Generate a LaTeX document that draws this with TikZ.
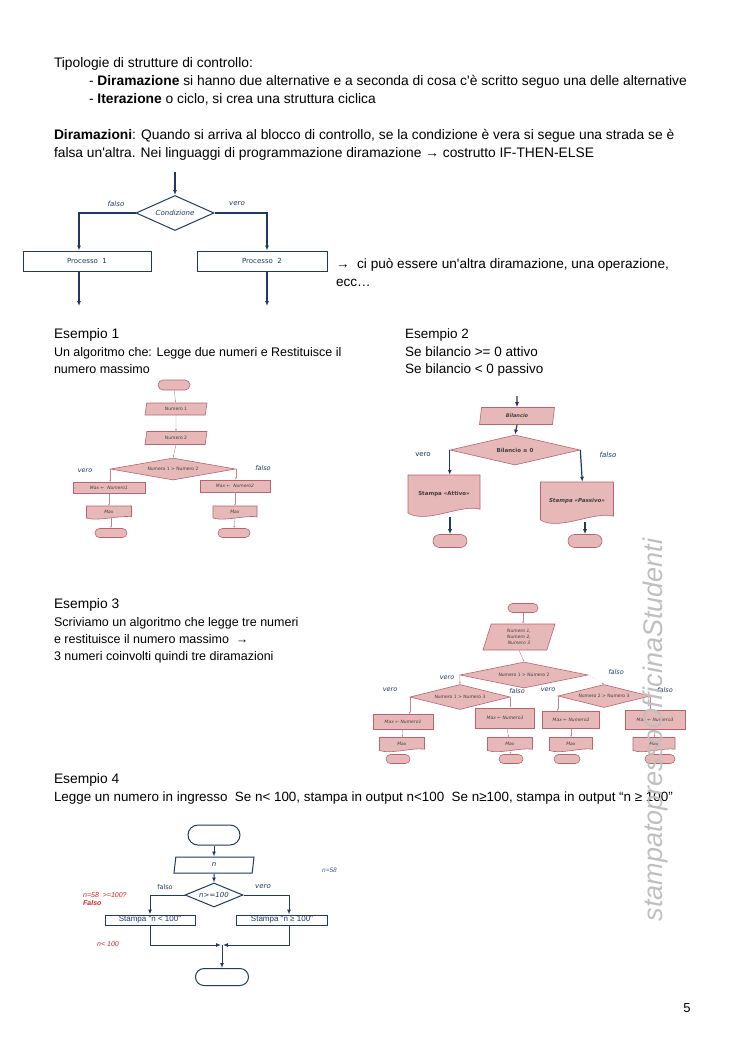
\documentclass[tikz,border=0pt]{standalone}
\usepackage{fontspec}
\setmainfont{Liberation Sans}[Ligatures=TeXOff]
\newfontfamily\vf{DejaVu Sans}
\usetikzlibrary{shapes.geometric,shapes.misc,arrows.meta}
\definecolor{navy}{HTML}{1F3864}
\definecolor{pfill}{HTML}{E6B9B8}
\definecolor{pdraw}{HTML}{B9636E}
\definecolor{redtxt}{HTML}{E02020}
\tikzset{
 body/.style={anchor=base west, inner sep=0pt, outer sep=0pt, font=\fontsize{13.8}{18}\selectfont},
 bodys/.style={body, font=\fontsize{12.5}{17}\selectfont},
 nline/.style={draw=navy, line width=1.4pt},
 narrow/.style={nline, -{Latex[length=5pt,width=4pt]}},
 nbox/.style={draw=navy, line width=1pt, fill=white, inner sep=0pt, font=\vf\fontsize{7}{8}\selectfont, text=navy},
 ndia/.style={diamond, nbox, aspect=2.2},
 nlab/.style={font=\vf\itshape\fontsize{7}{8}\selectfont, text=navy, inner sep=0pt},
 pbox/.style={draw=pdraw, line width=0.6pt, fill=pfill, inner sep=0pt, font=\vf\fontsize{4.5}{5.5}\selectfont, text=black!75},
 ppara/.style={pbox, trapezium, trapezium left angle=62, trapezium right angle=118, trapezium stretches body},
 pdia/.style={pbox, diamond, aspect=4},
 pterm/.style={pbox, rounded rectangle},
 pdoc/.style={draw=pdraw, line width=0.6pt, fill=pfill},
 pdoctext/.style={inner sep=0pt, font=\vf\itshape\fontsize{4.5}{5.5}\selectfont, text=black!75},
 parr/.style={draw=pdraw!80, line width=0.4pt, -{Latex[length=2pt,width=1.6pt]}},
 plab/.style={font=\vf\itshape\fontsize{6.5}{7.5}\selectfont, text=navy, inner sep=0pt},
}
\newcommand{\mydoc}[6]{%
 \filldraw[pdoc] ({#2-#4/2},{#3-#5/2}) -- ({#2+#4/2},{#3-#5/2}) -- ({#2+#4/2},{#3+#5/2-0.1*#5})
   .. controls ({#2+#4/4},{#3+#5/2-0.25*#5}) and ({#2-#4/4},{#3+#5/2+0.3*#5}) .. ({#2-#4/2},{#3+#5/2}) -- cycle;
 \node[pdoctext, minimum width=#4, minimum height=#5] (#1) at (#2,#3) {#6};}
\begin{document}
\begin{tikzpicture}[x=1pt,y=-1pt]
\useasboundingbox[fill=white] (0,0) rectangle (745,1053);

% ---------- top text
\node[body] (t1) at (54,67) {Tipologie di strutture di controllo:};
\node[body] (t2) at (89,85) {- \textbf{Diramazione} si hanno due alternative e a seconda di cosa c'è scritto seguo una delle alternative};
\node[body] (t3) at (89,103) {- \textbf{Iterazione} o ciclo, si crea una struttura ciclica};
\node[body] (t4) at (54,139) {\textbf{Diramazioni}: Quando si arriva al blocco di controllo, se la condizione è vera si segue una strada se è};
\node[body] (t5) at (54,157) {falsa un'altra. Nei linguaggi di programmazione diramazione → costrutto IF-THEN-ELSE};

% ---------- chart 1
\coordinate (c1in) at (175,172);
\node[ndia, minimum width=78, minimum height=35] (c) at (175,213) {\itshape Condizione};
\node[nbox, minimum width=128, minimum height=20] (p1) at (87,261) {Processo\ \ 1};
\node[nbox, minimum width=130, minimum height=20] (p2) at (262,261) {Processo\ \ 2};
\node[nlab] (lf1) at (116,204) {falso};
\node[nlab] (lv1) at (237,204) {vero};
\coordinate (p1out) at (79,306);
\coordinate (p2out) at (267,306);
\draw[narrow] (c1in) -- (c.north);
\draw[narrow] (c.west) -| ([xshift=-8pt]p1.north);
\draw[narrow] (c.east) -| ([xshift=5pt]p2.north);
\draw[narrow] ([xshift=-8pt]p1.south) -- (p1out);
\draw[narrow] ([xshift=5pt]p2.south) -- (p2out);
\node[body, font=\fontsize{13.6}{18}\selectfont] (t6) at (336,268) {→\ \ ci può essere un'altra diramazione, una operazione,};
\node[body, font=\fontsize{13.6}{18}\selectfont] (t7) at (336,286) {ecc…};

% ---------- examples text
\node[body] (e1) at (54,338) {Esempio 1};
\node[bodys] (e1a) at (54,356) {Un algoritmo che: Legge due numeri e Restituisce il};
\node[bodys] (e1b) at (54,373) {numero massimo};
\node[body, font=\fontsize{13.5}{18}\selectfont] (e2) at (405,338) {Esempio 2};
\node[body, font=\fontsize{13.5}{18}\selectfont] (e2a) at (405,356) {Se bilancio >= 0 attivo};
\node[body, font=\fontsize{13.5}{18}\selectfont] (e2b) at (405,373) {Se bilancio < 0 passivo};

% ---------- example 1 chart
\node[pterm, minimum width=32, minimum height=10] (a0) at (174,385) {};
\node[ppara, minimum width=62, minimum height=12] (a1) at (176,409) {Numero 1};
\node[ppara, minimum width=62, minimum height=13] (a2) at (176,438) {Numero 2};
\node[pdia, minimum width=125, minimum height=22] (ad) at (173,469) {Numero 1 > Numero 2};
\node[pbox, minimum width=72, minimum height=11] (ab1) at (109,488) {\itshape Max ← \ Numero1};
\node[pbox, minimum width=70, minimum height=12] (ab2) at (235,486) {\itshape Max ← \ Numero2};
\mydoc{am1}{109}{512}{45}{12}{Max}
\mydoc{am2}{235}{512}{44}{12}{Max}
\node[pterm, minimum width=32, minimum height=9] (at1) at (111,533) {};
\node[pterm, minimum width=32, minimum height=9] (at2) at (234,533) {};
\node[plab] (av) at (85,471) {vero};
\node[plab] (af) at (263,468) {falso};
\draw[parr] (a0) -- (a1);
\draw[parr] (a1) -- (a2);
\draw[parr] (a2.south) -- (ad.north);
\draw[parr] (ad.west) -- (ad.west |- ab1.north);
\draw[parr] (ad.east) -- (ad.east |- ab2.north);
\draw[parr] (ab1) -- (am1);
\draw[parr] (ab2) -- (am2);
\draw[parr] ([xshift=2pt]am1.south) -- (at1.north);
\draw[parr] (am2.south) -- (at2.north);

% ---------- example 2 chart
\coordinate (bin) at (517,396);
\node[ppara, minimum width=75, minimum height=17, font=\vf\bfseries\itshape\fontsize{5}{6}\selectfont] (b1) at (517,416) {Bilancio};
\node[pdia, minimum width=130, minimum height=30, font=\vf\bfseries\fontsize{5.5}{6.5}\selectfont] (bd) at (515,450) {Bilancio ≥ 0};
\mydoc{bs1}{444}{494}{72}{38}{\fontsize{5.5}{6.5}\selectfont\bfseries\upshape Stampa «Attivo»}
\mydoc{bs2}{577}{501}{73}{38}{\fontsize{5.5}{6.5}\selectfont\bfseries Stampa «Passivo»}
\node[pterm, minimum width=34, minimum height=13] (bt1) at (450,541) {};
\node[pterm, minimum width=34, minimum height=13] (bt2) at (585,541) {};
\node[plab, font=\vf\fontsize{7}{8}\selectfont] (bv) at (423,455) {vero};
\node[plab, font=\vf\itshape\fontsize{7}{8}\selectfont] (bf) at (608,455) {falso};
\coordinate (bs1o) at (450,517);
\coordinate (bs2o) at (585,522);
\draw[narrow, line width=1.2pt] (bin) -- (b1.north);
\draw[narrow, line width=1.2pt] (b1.south) -- (bd.north);
\draw[narrow, line width=1.2pt] (bd.west) -- (bd.west |- bs1.north);
\draw[narrow, line width=1.2pt] (bd.east) -- ([xshift=2pt]bd.east |- bs2.north);
\draw[narrow, line width=1.2pt] (bs1o) -- (bt1.north);
\draw[narrow, line width=1.2pt] (bs2o) -- (bt2.north);

% ---------- example 3 text
\node[body] (e3) at (54,608) {Esempio 3};
\node[bodys] (e3a) at (54,626) {Scriviamo un algoritmo che legge tre numeri};
\node[bodys] (e3b) at (54,643) {e restituisce il numero massimo\ \ →};
\node[bodys] (e3c) at (54,660) {3 numeri coinvolti quindi tre diramazioni};

% ---------- example 3 chart
\node[pterm, minimum width=30, minimum height=9] (c0) at (523,608) {};
\node[ppara, minimum width=72, minimum height=26, align=center, font=\vf\itshape\fontsize{4.5}{6}\selectfont] (c1) at (519,637) {Numero 1,\\Numero 2,\\Numero 3};
\node[pdia, minimum width=128, minimum height=26] (cd) at (524,675) {Numero 1 > Numero 2};
\node[pdia, minimum width=100, minimum height=25] (cdl) at (460,697) {Numero 1 > Numero 3};
\node[pdia, minimum width=92, minimum height=23] (cdr) at (604,696) {Numero 2 > Numero 3};
\node[pbox, minimum width=60, minimum height=15, font=\vf\itshape\fontsize{4.5}{5.5}\selectfont] (cb1) at (403,722) {Max ← Numero1};
\node[pbox, minimum width=59, minimum height=20, font=\vf\itshape\fontsize{4.5}{5.5}\selectfont] (cb2) at (505,718) {Max ← Numero3};
\node[pbox, minimum width=57, minimum height=17, font=\vf\itshape\fontsize{4.5}{5.5}\selectfont] (cb3) at (571,720) {Max ← Numero2};
\node[pbox, minimum width=60, minimum height=19, font=\vf\itshape\fontsize{4.5}{5.5}\selectfont] (cb4) at (655,720) {Max ← Numero3};
\mydoc{cm1}{402}{744}{45}{13}{Max}
\mydoc{cm2}{510}{744}{45}{13}{Max}
\mydoc{cm3}{571}{744}{43}{13}{Max}
\mydoc{cm4}{654}{744}{42}{13}{Max}
\node[pterm, minimum width=24, minimum height=9] (ct1) at (398,759) {};
\node[pterm, minimum width=24, minimum height=9] (ct2) at (511,759) {};
\node[pterm, minimum width=26, minimum height=9] (ct3) at (567,759) {};
\node[pterm, minimum width=30, minimum height=9] (ct4) at (660,759) {};
\node[plab] (cv0) at (447,678) {vero};
\node[plab] (cf0) at (616,672) {falso};
\node[plab] (cv1) at (390,690) {vero};
\node[plab] (cf1) at (517,691) {falso};
\node[plab] (cv2) at (548,690) {vero};
\node[plab] (cf2) at (665,690) {falso};
\draw[parr] (c0) -- (c0 |- c1.north);
\draw[parr] (c1.south) -- (cd.north);
\draw[parr] (cd.west) -- (cdl.north);
\draw[parr, dotted] (cd.east) -- (cdr.north);
\draw[parr] (cdl.west) -- (cdl.west |- cb1.north);
\draw[parr] (cdl.east) -- (cdl.east |- cb2.north);
\draw[parr] (cdr.west) -- (cdr.west |- cb3.north);
\draw[parr] (cdr.east) -- (cdr.east |- cb4.north);
\draw[parr] (cb1) -- (cm1);
\draw[parr] (cb2) -- (cm2);
\draw[parr] (cb3) -- (cm3);
\draw[parr] (cb4) -- (cm4);
\draw[parr, dotted] (cm2.south) -- (ct2.north);
\draw[parr, dotted] (cm4.south) -- (cm4.south |- ct4.north);

% ---------- example 4 text
\node[body] (e4) at (54,783) {Esempio 4};
\node[body, font=\fontsize{13.4}{18}\selectfont] (e4a) at (54,801) {Legge un numero in ingresso\ \ Se n< 100, stampa in output n<100\ \ Se n≥100, stampa in output “n ≥ 100”};

% ---------- example 4 chart
\node[nbox, rounded rectangle, minimum width=52, minimum height=20] (d0) at (214,835) {};
\node[nbox, trapezium, trapezium left angle=65, trapezium right angle=115, trapezium stretches body, minimum width=80, minimum height=16] (d1) at (214,865) {\itshape n};
\node[nbox, diamond, aspect=2.4, minimum width=58, minimum height=24] (dd) at (214,895) {\itshape n>=100};
\node[nbox, minimum width=90, minimum height=10, font=\fontsize{8}{9}\selectfont] (ds1) at (150,920) {Stampa "n < 100"};
\node[nbox, minimum width=91, minimum height=10, font=\fontsize{8}{9}\selectfont] (ds2) at (282,920) {Stampa "n ≥ 100"};
\node[nbox, rounded rectangle, minimum width=53, minimum height=17] (d9) at (222,977) {};
\node[nlab, font=\vf\fontsize{6.5}{7.5}\selectfont] (dlf) at (165,887) {falso};
\node[nlab] (dlv) at (263,887) {vero};
\coordinate (dj) at (222,945);
\draw[narrow, line width=1pt] (d0) -- (d1);
\draw[narrow, line width=1pt] (d1.south) -- (dd.north);
\draw[narrow, line width=1pt] (dd.west) -| (ds1.north);
\draw[narrow, line width=1pt] (dd.east) -| ([xshift=7pt]ds2.north);
\draw[narrow, line width=1pt] (ds1.south) |- ([xshift=-1pt]dj);
\draw[narrow, line width=1pt] ([xshift=7pt]ds2.south) |- ([xshift=1pt]dj);
\draw[narrow, line width=1pt] (dj) -- (d9.north);
\node[anchor=west, inner sep=0pt, text=redtxt, font=\fontsize{7}{8}\selectfont\itshape] (r1) at (83,895) {n=58\ \ >=100?};
\node[anchor=west, inner sep=0pt, text=redtxt, font=\fontsize{7}{8}\selectfont\bfseries\itshape] (r2) at (83,903) {Falso};
\node[anchor=west, inner sep=0pt, text=redtxt, font=\fontsize{7}{8}\selectfont\itshape] (r3) at (97,944) {n< 100};
\node[anchor=west, inner sep=0pt, text=navy!80, font=\fontsize{6.5}{7.5}\selectfont\itshape] (r4) at (322,870) {n=58};

% ---------- watermark and page number
\node[rotate=90, inner sep=0pt, text=black!25, font=\fontsize{27}{29}\selectfont\itshape] (wm) at (656,730) {stampatopressoOfficinaStudenti};
\node[anchor=base, inner sep=0pt, font=\fontsize{13}{15}\selectfont] (pg) at (687,1012) {5};
\end{tikzpicture}
\end{document}
